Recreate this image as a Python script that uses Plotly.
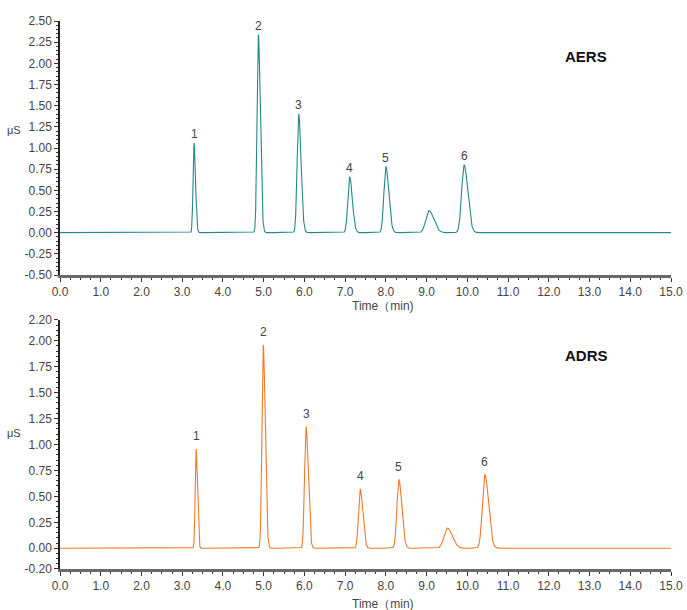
import numpy as np
import plotly.graph_objects as go

# ---- data ----
peak_labels = ["1", "2", "3", "4", "5", "", "6"]

aers_rt = [3.29, 4.87, 5.86, 7.11, 8.00, 9.06, 9.92]
aers_height = [1.06, 2.34, 1.40, 0.66, 0.78, 0.26, 0.80]
aers_sigma = [0.024, 0.032, 0.038, 0.044, 0.048, 0.078, 0.060]

adrs_rt = [3.34, 4.99, 6.04, 7.37, 8.32, 9.51, 10.43]
adrs_height = [0.955, 1.96, 1.17, 0.57, 0.66, 0.195, 0.71]
adrs_sigma = [0.022, 0.032, 0.036, 0.042, 0.048, 0.082, 0.060]

x_ticks = [i * 1.0 for i in range(16)]
top_yticks = [-0.5, -0.25, 0, 0.25, 0.5, 0.75, 1.0, 1.25, 1.5, 1.75, 2.0, 2.25, 2.5]
bot_yticks = [-0.2, 0, 0.25, 0.5, 0.75, 1.0, 1.25, 1.5, 1.75, 2.0, 2.2]

t = np.linspace(0, 15, 7501)


def trace_from_peaks(rts, heights, sigmas):
    y = np.zeros_like(t)
    for rt, h, s in zip(rts, heights, sigmas):
        sig = np.where(t < rt, s, s * 1.5)
        y += h * np.exp(-0.5 * ((t - rt) / sig) ** 2)
    return y


teal = "#23898a"
orange = "#f07a2a"
font_fam = "Liberation Sans, Arial, sans-serif"
tick_col = "#444444"

fig = go.Figure()
fig.add_trace(go.Scatter(x=t, y=trace_from_peaks(aers_rt, aers_height, aers_sigma),
                         mode="lines", line=dict(color=teal, width=1.1),
                         xaxis="x", yaxis="y", showlegend=False, hoverinfo="skip"))
fig.add_trace(go.Scatter(x=t, y=trace_from_peaks(adrs_rt, adrs_height, adrs_sigma),
                         mode="lines", line=dict(color=orange, width=1.1),
                         xaxis="x2", yaxis="y2", showlegend=False, hoverinfo="skip"))

annotations = []
for lab, rt, h in zip(peak_labels, aers_rt, aers_height):
    if lab:
        annotations.append(dict(x=rt, y=h, xref="x", yref="y", text=lab, showarrow=False,
                                yshift=9, font=dict(size=12, color=tick_col, family=font_fam)))
for lab, rt, h in zip(peak_labels, adrs_rt, adrs_height):
    if lab:
        annotations.append(dict(x=rt, y=h, xref="x2", yref="y2", text=lab, showarrow=False,
                                yshift=13, font=dict(size=12, color=tick_col, family=font_fam)))

annotations += [
    dict(x=0.861, y=0.936, xref="paper", yref="paper", text="<b>AERS</b>", showarrow=False,
         font=dict(size=15, color="#111", family=font_fam), xanchor="center", yanchor="middle"),
    dict(x=0.861, y=0.3905, xref="paper", yref="paper", text="<b>ADRS</b>", showarrow=False,
         font=dict(size=15, color="#111", family=font_fam), xanchor="center", yanchor="middle"),
    dict(x=-0.0753, y=(569 - 130) / 548, xref="paper", yref="paper", text="μS", showarrow=False,
         font=dict(size=11, color=tick_col, family=font_fam), xanchor="center", yanchor="middle"),
    dict(x=-0.0753, y=(569 - 433) / 548, xref="paper", yref="paper", text="μS", showarrow=False,
         font=dict(size=11, color=tick_col, family=font_fam), xanchor="center", yanchor="middle"),
    dict(x=0.529, y=(569 - 306) / 548, xref="paper", yref="paper", text="Time（min)",
         showarrow=False, font=dict(size=12, color=tick_col, family=font_fam),
         xanchor="center", yanchor="middle"),
    dict(x=0.529, y=(569 - 604) / 548, xref="paper", yref="paper", text="Time（min)",
         showarrow=False, font=dict(size=12, color=tick_col, family=font_fam),
         xanchor="center", yanchor="middle"),
]

common_x = dict(range=[0, 15], tickvals=x_ticks, ticktext=[f"{v:.1f}" for v in x_ticks],
                showline=True, linecolor="#6a6a6a", linewidth=2.5, ticks="outside",
                ticklen=4, tickcolor="#333", tickwidth=1, showgrid=False, zeroline=False,
                automargin=False,
                tickfont=dict(size=12, color=tick_col, family=font_fam),
                minor=dict(dtick=0.25, ticks="outside", ticklen=2, tickcolor="#333"))
common_y = dict(showline=True, linecolor="#222", linewidth=1.5, ticks="outside",
                ticklen=4, tickcolor="#333", tickwidth=1, showgrid=False, zeroline=False,
                automargin=False,
                tickfont=dict(size=12, color=tick_col, family=font_fam),
                minor=dict(dtick=0.05, ticks="outside", ticklen=2, tickcolor="#333"))

fig.update_layout(
    width=687, height=610,
    margin=dict(l=60, r=16, t=21, b=41),
    paper_bgcolor="white", plot_bgcolor="white",
    xaxis=dict(domain=[0, 1], anchor="y", **common_x),
    yaxis=dict(domain=[0.5365, 1], anchor="x", range=[-0.5, 2.5], tickvals=top_yticks,
               ticktext=[f"{v:.2f}" for v in top_yticks], **common_y),
    xaxis2=dict(domain=[0, 1], anchor="y2", **common_x),
    yaxis2=dict(domain=[0, 0.4544], anchor="x2", range=[-0.2, 2.2], tickvals=bot_yticks,
                ticktext=[f"{v:.2f}" for v in bot_yticks], **common_y),
    annotations=annotations,
)

fig.write_html("out.html")
